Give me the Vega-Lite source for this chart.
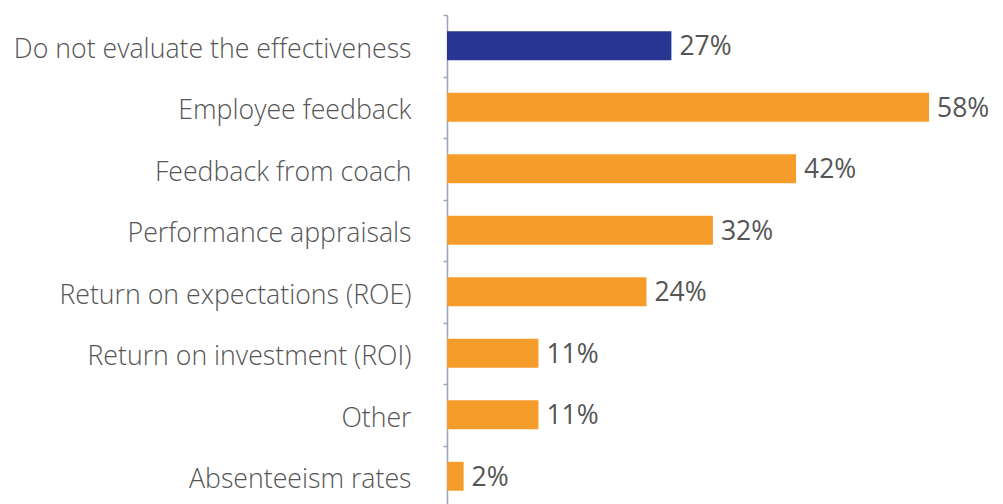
{
  "$schema": "https://vega.github.io/schema/vega-lite/v6.json",
  "width": 556,
  "height": 492,
  "autosize": {"type": "none"},
  "padding": {"left": 447, "top": 15, "right": 0, "bottom": 0},
  "background": "white",
  "config": {"view": {"stroke": null}},
  "data": {"values": [
    {"cat": "Do not evaluate the effectiveness", "v": 27, "label": "27%", "g": "a"},
    {"cat": "Employee feedback", "v": 58, "label": "58%", "g": "b"},
    {"cat": "Feedback from coach", "v": 42, "label": "42%", "g": "b"},
    {"cat": "Performance appraisals", "v": 32, "label": "32%", "g": "b"},
    {"cat": "Return on expectations (ROE)", "v": 24, "label": "24%", "g": "b"},
    {"cat": "Return on investment (ROI)", "v": 11, "label": "11%", "g": "b"},
    {"cat": "Other", "v": 11, "label": "11%", "g": "b"},
    {"cat": "Absenteeism rates", "v": 2, "label": "2%", "g": "b"}
  ]},
  "encoding": {
    "y": {"field": "cat", "type": "nominal", "sort": null,
      "scale": {"paddingInner": 0, "paddingOuter": 0},
      "axis": {"title": null, "domainColor": "#9aa3bd", "domainWidth": 1.5, "tickColor": "#9aa3bd", "tickWidth": 1.5, "tickSize": 4, "tickBand": "extent", "labelFont": "Open Sans", "labelFontWeight": 300, "labelFontSize": 26.7, "labelColor": "#555555", "labelPadding": 32, "labelLimit": 500, "labelOffset": 3.5}},
    "x": {"field": "v", "type": "quantitative", "scale": {"domain": [0, 66.9]}, "axis": null}
  },
  "layer": [
    {"mark": {"type": "bar", "height": {"band": 0.47}},
     "encoding": {"color": {"field": "g", "type": "nominal", "scale": {"domain": ["a", "b"], "range": ["#283593", "#f59c2a"]}, "legend": null}}},
    {"mark": {"type": "text", "align": "left", "dx": 8, "font": "Open Sans", "fontWeight": 400, "fontSize": 26.5, "color": "#555555", "baseline": "middle", "dy": 1.5},
     "encoding": {"text": {"field": "label", "type": "nominal"}}}
  ]
}
